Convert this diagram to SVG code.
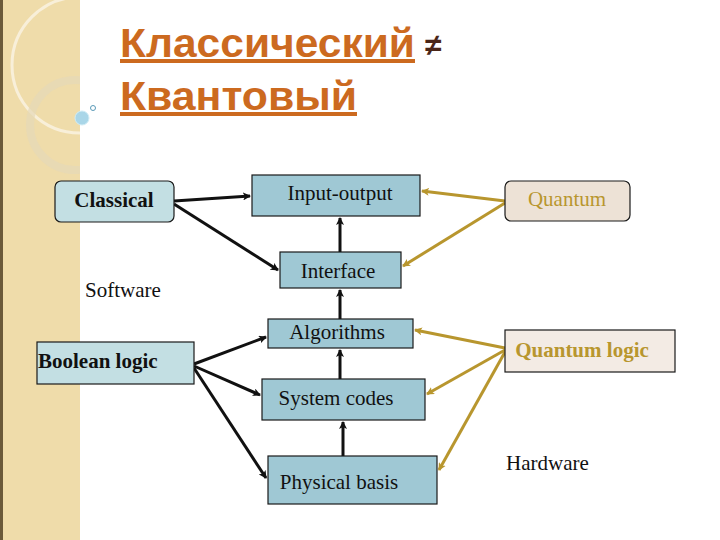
<svg xmlns="http://www.w3.org/2000/svg" width="720" height="540" viewBox="0 0 720 540">
<style>
.box{fill:#9fc8d4;stroke:#1a1a1a;stroke-width:1.2}
.t{font-family:"Liberation Serif",serif;font-size:21px;fill:#111}
.b{font-weight:bold}
.k{stroke:#111;stroke-width:3;fill:none;marker-end:url(#ak)}
.g{stroke:#b8962e;stroke-width:3;fill:none;marker-end:url(#ag)}
</style>
<defs>
<marker id="ak" markerWidth="8" markerHeight="8" refX="7" refY="4" orient="auto" markerUnits="userSpaceOnUse"><path d="M0,0 L8,4 L0,8 L2,4z" fill="#111"/></marker>
<marker id="ag" markerWidth="8" markerHeight="8" refX="7" refY="4" orient="auto" markerUnits="userSpaceOnUse"><path d="M0,0 L8,4 L0,8 L2,4z" fill="#b8962e"/></marker>
<clipPath id="band"><rect x="0" y="0" width="80" height="540"/></clipPath>
</defs>
<rect width="720" height="540" fill="#fff"/>
<rect x="0" y="0" width="80" height="540" fill="#efdcaa"/>
<rect x="0" y="0" width="3" height="540" fill="#6b5a3a"/>
<g clip-path="url(#band)">
<circle cx="80" cy="65" r="68" fill="none" stroke="#f8efd9" stroke-width="3"/>
<circle cx="75" cy="125" r="45" fill="none" stroke="#e5d8b8" stroke-width="8" opacity="0.7"/>
</g>
<circle cx="82" cy="118" r="7" fill="#a9d6e8" stroke="#d0ecf5"/>
<circle cx="93" cy="108" r="2.5" fill="none" stroke="#5a9ab8"/>
<g id="title" font-family="'Liberation Sans',sans-serif" font-weight="bold" font-size="40" fill="#cc6a1f" text-decoration="underline">
<text x="120" y="57" textLength="295" lengthAdjust="spacingAndGlyphs">Классический</text>
<text x="120" y="110" textLength="237" lengthAdjust="spacingAndGlyphs">Квантовый</text>
</g>
<text x="425" y="55" font-family="'Liberation Sans',sans-serif" font-weight="bold" font-size="30" fill="#4a2618">≠</text>
<g id="connectors">
<path class="k" d="M174,201 L250,196"/>
<path class="k" d="M174,204 L278,270"/>
<path class="k" d="M340,252 L340,218"/>
<path class="k" d="M340,319 L340,290"/>
<path class="k" d="M340,379 L340,350"/>
<path class="k" d="M343,456 L343,422"/>
<path class="k" d="M194,364 L266,337"/>
<path class="k" d="M194,366 L260,395"/>
<path class="k" d="M194,368 L266,478"/>
<path class="g" d="M505,201 L422,191"/>
<path class="g" d="M505,203 L403,266"/>
<path class="g" d="M505,348 L415,330"/>
<path class="g" d="M505,350 L427,394"/>
<path class="g" d="M505,352 L439,470"/>
</g>
<g id="classical"><rect x="55" y="181" width="119" height="41" rx="6" fill="#c3dfe3" stroke="#1a1a1a" stroke-width="1.2"/><text class="t b" x="114" y="207" text-anchor="middle">Classical</text></g>
<g id="io"><rect class="box" x="252" y="175" width="168" height="41"/><text class="t" x="340" y="200" text-anchor="middle">Input-output</text></g>
<g id="quantum"><rect x="505" y="181" width="125" height="40" rx="6" fill="#ede2d6" stroke="#1a1a1a" stroke-width="1.2"/><text class="t" x="567" y="206" text-anchor="middle" style="fill:#b8962e">Quantum</text></g>
<g id="interface"><rect class="box" x="280" y="252" width="121" height="36"/><text class="t" x="338" y="278" text-anchor="middle">Interface</text></g>
<g id="algorithms"><rect class="box" x="268" y="319" width="145" height="29"/><text class="t" x="337" y="339" text-anchor="middle">Algorithms</text></g>
<g id="boolean"><rect x="37" y="342" width="157" height="42" fill="#c3dfe3" stroke="#1a1a1a" stroke-width="1.2"/><text class="t b" x="38" y="368">Boolean logic</text></g>
<g id="syscodes"><rect class="box" x="262" y="379" width="163" height="41"/><text class="t" x="336" y="405" text-anchor="middle">System codes</text></g>
<g id="physical"><rect class="box" x="268" y="456" width="169" height="48"/><text class="t" x="339" y="489" text-anchor="middle">Physical basis</text></g>
<g id="qlogic"><rect x="505" y="330" width="170" height="42" fill="#f3ebe4" stroke="#1a1a1a" stroke-width="1.2"/><text class="t b" x="582" y="357" text-anchor="middle" style="fill:#b8962e">Quantum logic</text></g>
<text class="t" x="85" y="297">Software</text>
<text class="t" x="506" y="470">Hardware</text>
</svg>
